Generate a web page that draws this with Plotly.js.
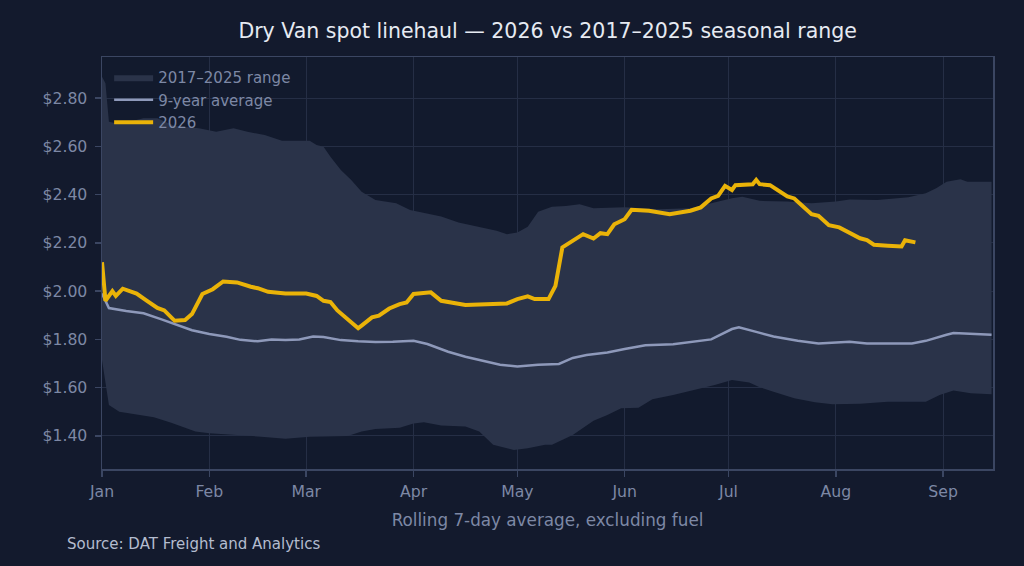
<!DOCTYPE html>
<html>
<head>
<meta charset="utf-8">
<script src="https://cdn.plot.ly/plotly-3.0.1.min.js"></script>
<style>
  html, body { margin: 0; padding: 0; background: #131a2d; }
  #plot { width: 1024px; height: 566px; }
</style>
</head>
<body>
<div id="plot"></div>
<script>
// 2026 rolling 7-day average, $/mile excluding fuel
var dates2026 = ['2026-01-01','2026-01-02','2026-01-04','2026-01-05','2026-01-07','2026-01-11','2026-01-14','2026-01-17',
    '2026-01-19','2026-01-22','2026-01-25','2026-01-27','2026-01-30','2026-02-02','2026-02-05','2026-02-09','2026-02-13',
    '2026-02-15','2026-02-18','2026-02-23','2026-03-01','2026-03-04','2026-03-06','2026-03-08','2026-03-10','2026-03-13',
    '2026-03-16','2026-03-17','2026-03-20','2026-03-22','2026-03-25','2026-03-28','2026-03-30','2026-04-01','2026-04-06',
    '2026-04-09','2026-04-16','2026-04-28','2026-05-01','2026-05-04','2026-05-06','2026-05-10','2026-05-12','2026-05-14',
    '2026-05-17','2026-05-20','2026-05-23','2026-05-25','2026-05-27','2026-05-29','2026-06-01','2026-06-03','2026-06-08',
    '2026-06-14','2026-06-20','2026-06-23','2026-06-26','2026-06-28','2026-06-30','2026-07-02','2026-07-03','2026-07-08',
    '2026-07-09','2026-07-10','2026-07-13','2026-07-18','2026-07-20','2026-07-25','2026-07-27','2026-07-30','2026-08-02',
    '2026-08-08','2026-08-10','2026-08-12','2026-08-16','2026-08-20','2026-08-21','2026-08-24'];
var rate2026 = [2.12,1.96,2.00,1.98,2.01,1.99,1.96,1.93,
    1.92,1.877,1.88,1.905,1.988,2.008,2.04,2.036,2.018,
    2.012,1.997,1.99,1.99,1.98,1.96,1.955,1.92,1.884,
    1.846,1.857,1.891,1.898,1.928,1.946,1.953,1.988,1.995,
    1.96,1.943,1.949,1.967,1.978,1.967,1.967,2.022,2.181,
    2.208,2.236,2.218,2.24,2.236,2.277,2.298,2.337,2.333,
    2.319,2.333,2.347,2.384,2.395,2.436,2.419,2.439,2.443,
    2.461,2.443,2.439,2.392,2.384,2.319,2.312,2.273,2.264,
    2.219,2.211,2.192,2.188,2.185,2.211,2.202];

// 9-year average (2017-2025)
var datesAvg = ['2026-01-01','2026-01-03','2026-01-08','2026-01-13','2026-01-18','2026-01-23','2026-01-27','2026-02-01',
    '2026-02-06','2026-02-10','2026-02-15','2026-02-19','2026-02-23','2026-02-27','2026-03-03','2026-03-06','2026-03-11',
    '2026-03-16','2026-03-21','2026-03-26','2026-03-31','2026-04-01','2026-04-05','2026-04-11','2026-04-16','2026-04-21',
    '2026-04-26','2026-05-01','2026-05-07','2026-05-13','2026-05-17','2026-05-21','2026-05-27','2026-06-01','2026-06-07',
    '2026-06-15','2026-06-20','2026-06-26','2026-07-02','2026-07-04','2026-07-09','2026-07-14','2026-07-21','2026-07-27',
    '2026-08-05','2026-08-10','2026-08-23','2026-08-27','2026-09-02','2026-09-04','2026-09-15'];
var rateAvg = [1.99,1.93,1.918,1.908,1.884,1.859,1.838,1.822,
    1.811,1.798,1.792,1.80,1.797,1.80,1.812,1.81,1.797,
    1.792,1.789,1.79,1.793,1.794,1.781,1.749,1.728,1.711,
    1.695,1.688,1.695,1.698,1.723,1.735,1.746,1.76,1.776,
    1.78,1.788,1.80,1.843,1.85,1.831,1.812,1.794,1.783,
    1.79,1.783,1.783,1.794,1.819,1.826,1.819];

// range high
var datesHigh = ['2026-01-01','2026-01-02','2026-01-03','2026-01-06','2026-01-13','2026-01-17','2026-01-22','2026-01-29',
    '2026-02-03','2026-02-08','2026-02-12','2026-02-17','2026-02-22','2026-03-02','2026-03-04','2026-03-06','2026-03-08',
    '2026-03-11','2026-03-14','2026-03-17','2026-03-21','2026-03-27','2026-03-31','2026-04-04','2026-04-09','2026-04-14',
    '2026-04-20','2026-04-25','2026-04-28','2026-05-01','2026-05-04','2026-05-07','2026-05-11','2026-05-15','2026-05-19',
    '2026-05-23','2026-06-01','2026-06-11','2026-06-20','2026-06-26','2026-07-02','2026-07-05','2026-07-10','2026-07-18',
    '2026-07-25','2026-08-01','2026-08-05','2026-08-13','2026-08-22','2026-08-27','2026-08-30','2026-09-02','2026-09-06',
    '2026-09-08','2026-09-15'];
var rateHigh = [2.888,2.861,2.702,2.692,2.716,2.716,2.684,2.675,
    2.66,2.675,2.66,2.647,2.623,2.623,2.605,2.598,2.557,
    2.502,2.46,2.412,2.378,2.364,2.336,2.323,2.309,2.284,
    2.265,2.25,2.236,2.243,2.267,2.329,2.35,2.353,2.36,
    2.343,2.347,2.339,2.343,2.364,2.385,2.391,2.374,2.371,
    2.364,2.371,2.38,2.378,2.389,2.405,2.426,2.453,2.463,
    2.453,2.453];

// range low
var datesLow = ['2026-01-01','2026-01-02','2026-01-03','2026-01-06','2026-01-09','2026-01-13','2026-01-16','2026-01-21',
    '2026-01-24','2026-01-28','2026-02-01','2026-02-08','2026-02-16','2026-02-23','2026-03-02','2026-03-13','2026-03-17',
    '2026-03-21','2026-03-28','2026-04-01','2026-04-04','2026-04-09','2026-04-16','2026-04-20','2026-04-24','2026-04-30',
    '2026-05-04','2026-05-09','2026-05-11','2026-05-17','2026-05-23','2026-05-27','2026-05-31','2026-06-05','2026-06-09',
    '2026-06-15','2026-06-21','2026-06-27','2026-07-02','2026-07-07','2026-07-10','2026-07-14','2026-07-20','2026-07-26',
    '2026-07-31','2026-08-08','2026-08-16','2026-08-27','2026-08-31','2026-09-04','2026-09-09','2026-09-15'];
var rateLow = [1.715,1.632,1.528,1.50,1.491,1.483,1.477,1.455,
    1.439,1.418,1.411,1.404,1.397,1.388,1.397,1.40,1.418,
    1.429,1.434,1.452,1.457,1.443,1.439,1.418,1.363,1.342,
    1.349,1.363,1.363,1.404,1.463,1.487,1.515,1.517,1.552,
    1.57,1.59,1.611,1.632,1.621,1.602,1.583,1.556,1.54,
    1.531,1.533,1.542,1.542,1.57,1.588,1.577,1.573];

var monthTicks = ['2026-01-01','2026-02-01','2026-03-01','2026-04-01','2026-05-01','2026-06-01','2026-07-01','2026-08-01','2026-09-01'];
var monthLabels = ['Jan','Feb','Mar','Apr','May','Jun','Jul','Aug','Sep'];
var priceTicks = [1.4,1.6,1.8,2.0,2.2,2.4,2.6,2.8];

var band = {
    type: 'scatter', mode: 'lines', name: '2017–2025 range',
    x: datesHigh.concat(datesLow.slice().reverse()),
    y: rateHigh.concat(rateLow.slice().reverse()),
    fill: 'toself', fillcolor: '#2a3349',
    line: {width: 0, color: '#2a3349'},
    hoverinfo: 'skip'
};
var avg = {
    type: 'scatter', mode: 'lines', name: '9-year average',
    x: datesAvg, y: rateAvg,
    line: {color: '#8e99ba', width: 2.5}
};
var cur = {
    type: 'scatter', mode: 'lines', name: '2026',
    x: dates2026, y: rate2026,
    line: {color: '#eab308', width: 4}
};

var tickFont = {family: 'DejaVu Sans, sans-serif', size: 15.7, color: '#7d88a5'};
var axisTitleFont = {family: 'DejaVu Sans, sans-serif', size: 16.8, color: '#7d88a5'};

var layout = {
    width: 1024, height: 566,
    paper_bgcolor: '#131a2d',
    plot_bgcolor: '#121a2d',
    margin: {l: 102, r: 31, t: 57, b: 97},
    font: {family: 'DejaVu Sans, sans-serif', color: '#7d88a5'},
    title: {
        text: 'Dry Van spot linehaul — 2026 vs 2017–2025 seasonal range',
        font: {family: 'DejaVu Sans, sans-serif', size: 20.5, color: '#e6eaf2'},
        x: 0.5348, xanchor: 'center', y: 0.945, yanchor: 'middle'
    },
    showlegend: true,
    legend: {
        x: 0.008, y: 0.99, xanchor: 'left', yanchor: 'top',
        bgcolor: 'rgba(0,0,0,0)',
        font: {family: 'DejaVu Sans, sans-serif', size: 15, color: '#7d88a5'},
        itemwidth: 39,
        tracegroupgap: 2
    },
    xaxis: {
        type: 'date',
        range: ['2026-01-01', '2026-09-15 10:00'],
        tickmode: 'array', tickvals: monthTicks, ticktext: monthLabels,
        ticks: 'outside', ticklen: 6, tickwidth: 1.5, tickcolor: '#3b4662',
        ticklabelstandoff: 2,
        showline: true, linecolor: '#3b4662', linewidth: 1.5, mirror: true,
        showgrid: true, gridcolor: '#252e45', gridwidth: 1,
        zeroline: false,
        tickfont: tickFont,
        title: {text: 'Rolling 7-day average, excluding fuel', font: axisTitleFont, standoff: 14}
    },
    yaxis: {
        range: [1.263, 2.97],
        tickmode: 'array', tickvals: priceTicks,
        tickformat: '$.2f',
        ticks: 'outside', ticklen: 6, tickwidth: 1.5, tickcolor: '#3b4662',
        ticklabelstandoff: 4,
        showline: true, linecolor: '#3b4662', linewidth: 1.5, mirror: true,
        showgrid: true, gridcolor: '#252e45', gridwidth: 1,
        zeroline: false,
        tickfont: tickFont
    },
    annotations: [{
        text: 'Source: DAT Freight and Analytics',
        xref: 'paper', yref: 'paper', x: -0.0415, y: -0.181,
        xanchor: 'left', yanchor: 'middle', showarrow: false,
        font: {family: 'DejaVu Sans, sans-serif', size: 15, color: '#b4bccf'}
    }]
};

Plotly.newPlot(document.getElementById('plot'), [band, avg, cur], layout, {displayModeBar: false, staticPlot: true});
</script>
</body>
</html>
